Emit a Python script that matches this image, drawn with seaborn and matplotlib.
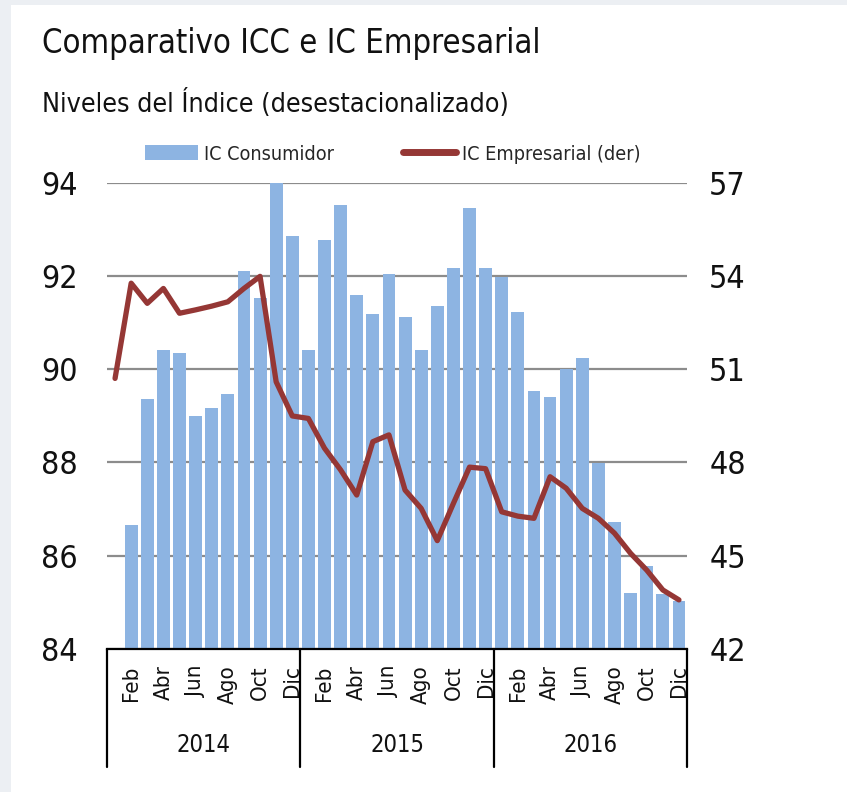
import numpy as np
import pandas as pd
import seaborn as sns
import matplotlib.pyplot as plt
from matplotlib.patches import Patch, Rectangle
from matplotlib.lines import Line2D

# data (monthly, Jan 2014 - Dec 2016)
years = ['2014', '2015', '2016']
months = ['Ene', 'Feb', 'Mar', 'Abr', 'May', 'Jun', 'Jul', 'Ago', 'Sep', 'Oct', 'Nov', 'Dic']
shown_months = ['Feb', 'Abr', 'Jun', 'Ago', 'Oct', 'Dic']

# IC Consumidor (bars, left axis)
icc_2014 = [np.nan, 86.66, 89.36, 90.41, 90.36, 89.00, 89.18, 89.48, 92.12, 91.54, 94.00, 92.87]
icc_2015 = [90.41, 92.78, 93.53, 91.60, 91.19, 92.06, 91.12, 90.41, 91.36, 92.18, 93.47, 92.18]
icc_2016 = [91.99, 91.24, 89.54, 89.41, 90.00, 90.24, 87.99, 86.73, 85.20, 85.77, 85.17, 85.02]

# IC Empresarial (line, right axis)
ice_2014 = [50.71, 53.78, 53.13, 53.61, 52.81, 52.92, 53.04, 53.18, 53.61, 54.00, 50.60, 49.50]
ice_2015 = [49.42, 48.46, 47.76, 46.95, 48.67, 48.89, 47.11, 46.52, 45.48, 46.68, 47.85, 47.80]
ice_2016 = [46.41, 46.27, 46.20, 47.54, 47.17, 46.52, 46.20, 45.72, 45.07, 44.53, 43.89, 43.57]

BAR = '#8db4e2'
LINE = '#953735'
GRID = '#8c8c8c'
TXT = '#111111'

df = pd.DataFrame({
    'anio': np.repeat(years, 12),
    'mes': months * 3,
    'icc': icc_2014 + icc_2015 + icc_2016,
    'ice': ice_2014 + ice_2015 + ice_2016,
})
df['periodo'] = df['mes'] + '-' + df['anio']
df['pos'] = np.arange(len(df))

sns.set_style('white')
plt.rcParams['font.family'] = ['DejaVu Sans']
plt.rcParams['font.stretch'] = 'condensed'

W, H = 847, 792
fig = plt.figure(figsize=(W / 100, H / 100), dpi=100)
fig.patch.set_facecolor('white')
fig.add_artist(Rectangle((0, 1 - 5 / H), 1, 5 / H, transform=fig.transFigure,
                         color='#eceff3', lw=0, zorder=0))
fig.add_artist(Rectangle((0, 0), 11 / W, 1, transform=fig.transFigure,
                         color='#eceff3', lw=0, zorder=0))

ax = fig.add_axes([107 / W, 1 - 648.6 / H, 580 / W, 465.3 / H])
sns.barplot(data=df, x='periodo', y='icc', order=list(df['periodo']), color=BAR,
            saturation=1, width=0.8, errorbar=None, linewidth=0, ax=ax)
ax.set_xlim(-0.5, len(df) - 0.5)
ax.set_ylim(84, 94)
ax.set_yticks(range(84, 95, 2))
ax.grid(axis='y', color=GRID, lw=1.6)
ax.grid(axis='x', visible=False)
ax.set_axisbelow(True)

ax2 = ax.twinx()
sns.lineplot(data=df, x='pos', y='ice', color=LINE, lw=3.8, ax=ax2)
ax2.set_ylim(42, 57)
ax2.set_yticks(range(42, 58, 3))
ax2.set_xlim(-0.5, len(df) - 0.5)

for a in (ax, ax2):
    for s in ['left', 'right', 'top']:
        a.spines[s].set_visible(False)
    a.set_xlabel('')
    a.set_ylabel('')
ax2.spines['bottom'].set_visible(False)
ax.spines['bottom'].set_color('black')
ax.spines['bottom'].set_linewidth(1.6)

ax.tick_params(axis='y', length=0, pad=21, labelsize=23, labelcolor=TXT)
ax2.tick_params(axis='y', length=0, pad=16, labelsize=23, labelcolor=TXT)

tick_pos = df.index[df['mes'].isin(shown_months)]
ax.set_xticks(tick_pos, df.loc[tick_pos, 'mes'], rotation=90)
ax.tick_params(axis='x', length=0, pad=12, labelsize=16, labelcolor=TXT)

# year groups below the month labels
xtr = ax.get_xaxis_transform()
for i, y in enumerate(years):
    ax.text(i * 12 + 5.5, -0.207, y, transform=xtr, ha='center', va='center',
            fontsize=17, color=TXT)
for b in [-0.5, 11.5, 23.5, 35.5]:
    ax.plot([b, b], [0, -0.254], transform=xtr, color='black', lw=1.6, clip_on=False)

fig.text(41.7 / W, 1 - 52.7 / H, 'Comparativo ICC e IC Empresarial',
         fontsize=23.6, color=TXT, va='baseline')
fig.text(41.7 / W, 1 - 111.7 / H, 'Niveles del Índice (desestacionalizado)',
         fontsize=19.3, color=TXT, va='baseline')

handles = [Patch(facecolor=BAR, edgecolor='none'), Line2D([], [], color=LINE, lw=5)]
fig.legend(handles, ['IC Consumidor', 'IC Empresarial (der)'], ncol=2, frameon=False,
           loc='center left', bbox_to_anchor=(145 / W, 1 - 154 / H), borderpad=0,
           borderaxespad=0, fontsize=14.2, handlelength=2.7, handleheight=0.8,
           handletextpad=0.3, columnspacing=3.5)

fig.savefig('out.png', dpi=100)
